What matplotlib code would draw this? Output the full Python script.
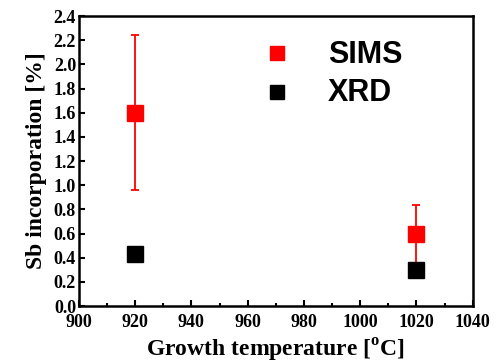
import numpy as np
import matplotlib
matplotlib.use('Agg')
import matplotlib.pyplot as plt
from matplotlib.ticker import MultipleLocator

plt.rcParams['font.family'] = 'Liberation Serif'
plt.rcParams['font.weight'] = 'bold'
plt.rcParams['mathtext.fontset'] = 'custom'
plt.rcParams['mathtext.rm'] = 'Liberation Serif:bold'
plt.rcParams['mathtext.bf'] = 'Liberation Serif:bold'

# data
temp = [920, 1020]
sims = [1.60, 0.60]
sims_hi = [2.245, 0.835]
sims_lo = [0.96, 0.36]
xrd = [0.43, 0.30]

err = [np.array(sims) - np.array(sims_lo), np.array(sims_hi) - np.array(sims)]

fig = plt.figure(figsize=(4.96, 3.64), dpi=100)
ax = fig.add_axes([0.159, 0.159, 0.794, 0.797])

ax.errorbar(temp, sims, yerr=err, fmt='none', ecolor='red', elinewidth=1.3,
            capsize=3, capthick=1.3, zorder=2)
ax.plot(temp, sims, 's', color='red', ms=11.5, ls='none', zorder=3)
ax.plot(temp, xrd, 's', color='black', ms=11.5, ls='none', zorder=3)

ax.set_xlim(900, 1040)
ax.set_ylim(0, 2.4)
ax.xaxis.set_major_locator(MultipleLocator(20))
ax.xaxis.set_minor_locator(MultipleLocator(10))
ax.yaxis.set_major_locator(MultipleLocator(0.2))
ax.yaxis.set_major_formatter(matplotlib.ticker.FormatStrFormatter('%.1f'))
ax.tick_params(which='both', direction='in', top=False, right=False,
               labelsize=13, width=1.5)
ax.tick_params(axis='x', pad=6)
ax.tick_params(axis='y', pad=2)
ax.tick_params(which='major', length=4)
ax.tick_params(which='minor', length=2.5)
for s in ax.spines.values():
    s.set_linewidth(1.8)

ax.set_xlabel(r'Growth temperature [$^{\mathrm{o}}$C]', fontsize=17, fontweight='bold', labelpad=4)
ax.set_ylabel('Sb incorporation [%]', fontsize=17, fontweight='bold', labelpad=5)

# legend drawn by hand to match the spacing
ax.plot([970.5], [2.095], 's', color='red', ms=10.5)
ax.plot([970.5], [1.77], 's', color='black', ms=10.5)
ax.text(988.5, 2.075, 'SIMS', fontsize=22, fontweight='bold', family='Liberation Sans', va='center')
ax.text(988.5, 1.76, 'XRD', fontsize=22, fontweight='bold', family='Liberation Sans', va='center')

fig.savefig('out.png', dpi=100)
